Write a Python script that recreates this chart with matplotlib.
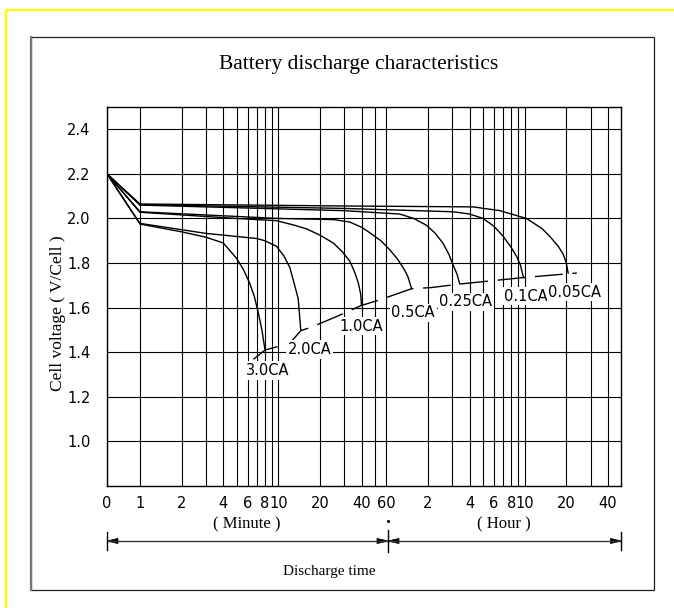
import numpy as np
import matplotlib
matplotlib.use("Agg")
import matplotlib.pyplot as plt
from matplotlib.patches import Rectangle, Polygon

# ---------------- data (time in minutes, voltage in V/cell) ----------------
t_005 = [0, 1, 30, 255, 398, 619, 800, 911, 1050, 1139, 1200, 1238]
v_005 = [2.2, 2.065, 2.056, 2.052, 2.035, 2.0, 1.955, 1.92, 1.875, 1.84, 1.80, 1.755]

t_01 = [0, 1, 30, 183, 240, 301, 360, 420, 480, 525, 560, 589]
v_01 = [2.2, 2.062, 2.045, 2.03, 2.02, 2.0, 1.965, 1.92, 1.87, 1.83, 1.79, 1.735]

t_025 = [0, 1, 30, 75, 95, 117, 135, 154, 170, 183, 195, 204]
v_025 = [2.2, 2.06, 2.035, 2.02, 2.0, 1.97, 1.935, 1.89, 1.84, 1.79, 1.75, 1.706]

t_05 = [0, 1, 10, 25, 32.8, 40, 45.7, 55, 63.6, 72, 79.6, 86, 91.6]
v_05 = [2.2, 2.03, 2.0, 1.995, 1.984, 1.96, 1.936, 1.90, 1.86, 1.82, 1.78, 1.74, 1.685]

t_10 = [0, 1, 5, 9.7, 13, 16, 20, 24.9, 29, 32.7, 35.5, 37.8, 39.3, 39.8]
v_10 = [2.2, 2.028, 2.0, 1.99, 1.97, 1.953, 1.925, 1.89, 1.85, 1.81, 1.76, 1.71, 1.66, 1.61]

t_20 = [0, 1, 3, 7, 8, 9.7, 11, 12.1, 13.1, 13.9, 14.5]
v_20 = [2.2, 1.978, 1.933, 1.91, 1.90, 1.875, 1.83, 1.78, 1.70, 1.64, 1.50]

t_30 = [0, 1, 2, 3, 4, 5, 5.6, 6.2, 6.7, 7.14, 7.6, 8.0]
v_30 = [2.2, 1.975, 1.94, 1.916, 1.89, 1.82, 1.77, 1.71, 1.65, 1.58, 1.50, 1.41]

series_t = [t_005, t_01, t_025, t_05, t_10, t_20, t_30]
series_v = [v_005, v_01, v_025, v_05, v_10, v_20, v_30]

# end-voltage (dashed) line
t_end = [6.6, 8.0, 12.1, 14.5, 16.9, 26.3, 39.8, 54, 91.6, 127, 204, 589, 1238, 1430]
v_end = [1.368, 1.41, 1.44, 1.497, 1.51, 1.56, 1.61, 1.635, 1.685, 1.69, 1.706, 1.735, 1.752, 1.755]

# curve labels
rate_labels = ["3.0CA", "2.0CA", "1.0CA", "0.5CA", "0.25CA", "0.1CA", "0.05CA"]
label_t = [8.3, 16.7, 39.4, 94, 226, 612, 1383]
label_v = [1.318, 1.412, 1.517, 1.577, 1.626, 1.651, 1.669]

# axis ticks
major_t = [0, 1, 2, 4, 6, 8, 10, 20, 40, 60, 120, 240, 360, 480, 600, 1200, 2400]
major_lbl = ["0", "1", "2", "4", "6", "8", "10", "20", "40", "60",
             "2", "4", "6", "8", "10", "20", "40"]
minor_t = [3, 5, 7, 9, 30, 50, 180, 300, 420, 540, 1800]
y_ticks = [1.0, 1.2, 1.4, 1.6, 1.8, 2.0, 2.2, 2.4]

# ---------------- figure ----------------
K = 0.238  # width of the 0-1 minute segment, in decades


def fwd(t):
    t = np.asarray(t, dtype=float)
    return np.where(t >= 1, np.log10(np.maximum(t, 1.0)), (t - 1.0) * K)


def inv(u):
    u = np.asarray(u, dtype=float)
    return np.where(u >= 0, 10.0 ** np.clip(u, 0, 20), 1.0 + u / K)


W, H = 674, 608
fig = plt.figure(figsize=(W / 100, H / 100), dpi=100)
fig.patch.set_facecolor("white")

SERIF = ["Liberation Serif", "DejaVu Serif"]
CAD = ["DejaVu Sans"]

# overlay in pixel coordinates
ov = fig.add_axes([0, 0, 1, 1])
ov.set_xlim(0, W)
ov.set_ylim(H, 0)
ov.axis("off")
ov.set_zorder(0)

ov.add_patch(Rectangle((6, 10), 800, 800, fill=False, edgecolor="#ffff00", lw=1.6))
ov.add_patch(Rectangle((31, 36.5), 622.5, 553, fill=False, edgecolor="#222222", lw=0.9))
ov.plot([31, 31], [36.5, 589.5], color="#777777", lw=1.6)

ov.text(359, 65, "Battery discharge characteristics", ha="center", va="center",
        fontsize=15.5, family=SERIF)
ov.text(58, 313, "Cell voltage ( V/Cell )", ha="center", va="center", rotation=90,
        fontsize=12.5, family=SERIF)
ov.text(247, 524, "( Minute )", ha="center", va="center", fontsize=12, family=SERIF)
ov.text(504, 524, "( Hour )", ha="center", va="center", fontsize=12, family=SERIF)
ov.text(329, 572, "Discharge time", ha="center", va="center", fontsize=11, family=SERIF)

# dimension arrows
ya = 541
ov.plot([107, 621.4], [ya, ya], color="#333333", lw=1.0)
for xb, y0, y1 in [(107, 532, 550), (621.4, 532, 550), (388, 530, 552)]:
    ov.plot([xb, xb], [y0, y1], color="black", lw=1.0)
ov.plot([388], [521], marker="o", ms=1.2, color="black")
hl, hw = 11, 2.6
for tip, d in [(107, -1), (388, 1), (388, -1), (621.4, 1)]:
    ov.add_patch(Polygon([(tip, ya), (tip - d * hl, ya - hw), (tip - d * hl, ya + hw)],
                         closed=True, facecolor="black", edgecolor="black", lw=0.5))

# main chart
ax = fig.add_axes([107 / W, 1 - 486 / H, (621.4 - 107) / W, (486 - 107) / H])
ax.set_zorder(1)
ax.set_xscale("function", functions=(fwd, inv))
ax.set_xlim(0, 3000)
ax.set_ylim(0.8, 2.5)

ax.set_xticks(major_t)
ax.set_xticklabels(major_lbl)
ax.set_xticks(minor_t, minor=True)
ax.set_yticks(y_ticks)
ax.set_yticklabels([f"{v:.1f}" for v in y_ticks])
ax.tick_params(axis="both", which="both", length=0)
ax.tick_params(axis="x", pad=7)
ax.tick_params(axis="y", pad=12)
for lab in ax.get_xticklabels() + ax.get_yticklabels():
    lab.set_family(CAD)
    lab.set_fontsize(10.5)

ax.grid(True, which="both", axis="x", color="black", lw=0.8)
ax.grid(True, which="major", axis="y", color="black", lw=0.8)
ax.set_axisbelow(True)
for s in ax.spines.values():
    s.set_color("black")
    s.set_linewidth(1.0)

for tt, vv in zip(series_t, series_v):
    ax.plot(tt, vv, color="black", lw=1.0, zorder=3)

ax.plot(t_end, v_end, color="black", lw=1.0, linestyle=(0, (20, 7)), zorder=3)

for txt, tx, vy in zip(rate_labels, label_t, label_v):
    ax.text(tx, vy, txt, ha="center", va="center", fontsize=10.5, family=CAD, zorder=4,
            bbox=dict(facecolor="white", edgecolor="none", pad=1.2))

fig.savefig("out.png", dpi=100, facecolor="white")
